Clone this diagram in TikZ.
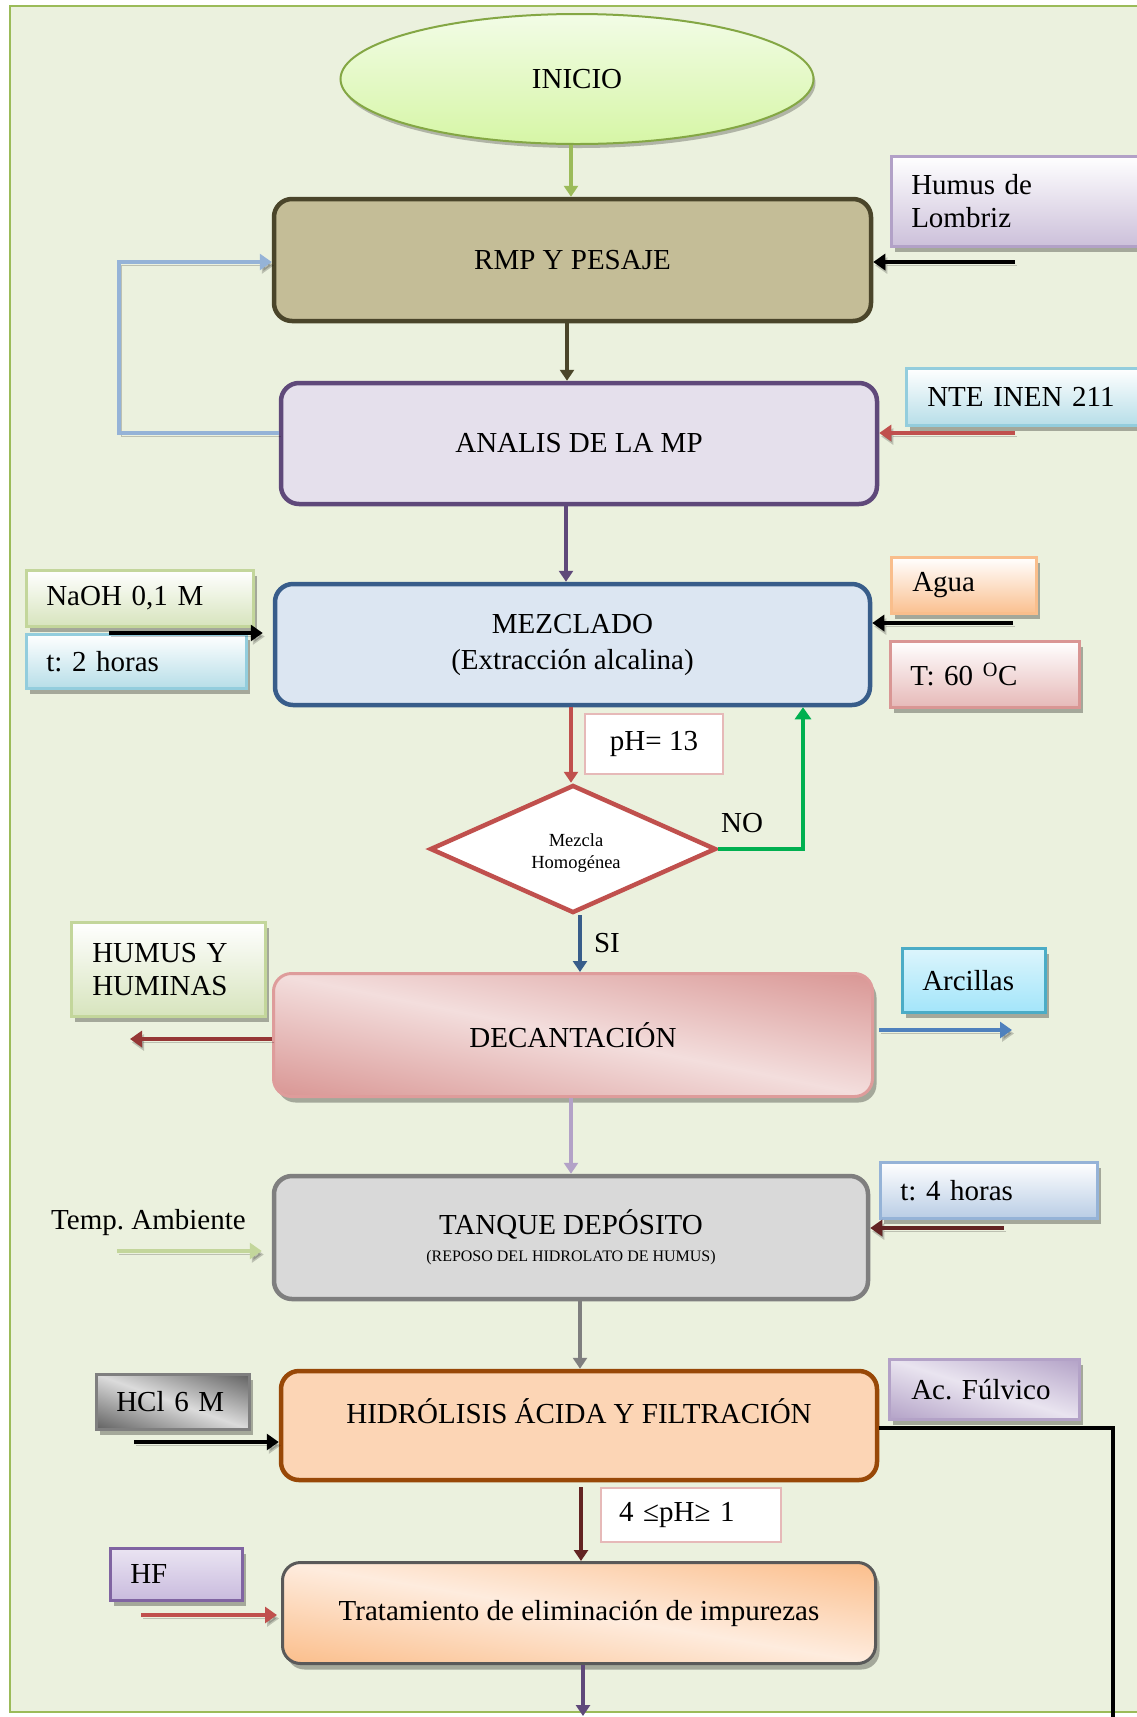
\documentclass[tikz,border=0pt]{standalone}
\usepackage{fontspec}
\setmainfont{Liberation Serif}
\usetikzlibrary{shapes.geometric,arrows.meta,shadows}

% Diagonal two-tone shading: dark at the lower-left and upper-right corners,
% light along the diagonal from the upper-left to the lower-right corner.
% #1 name, #2-#4 dark rgb, #5-#7 light rgb
\newcommand{\diagshading}[7]{%
  \pgfdeclarefunctionalshading{#1}{\pgfpointorigin}{\pgfpoint{100bp}{100bp}}{}{
    25 sub 50 div exch 25 sub 50 div add 1 sub abs 1 exch sub
    dup 0 lt {pop 0} if
    dup #5 #2 sub mul #2 add
    exch dup #6 #3 sub mul #3 add
    exch #7 #4 sub mul #4 add
  }}
\diagshading{decsh}{0.851}{0.588}{0.580}{0.953}{0.870}{0.866}
\diagshading{trash}{0.984}{0.745}{0.545}{0.996}{0.925}{0.870}
\diagshading{metsh}{0.38}{0.38}{0.38}{0.86}{0.86}{0.86}
\diagshading{acfsh}{0.702}{0.635}{0.780}{0.915}{0.895}{0.940}

% frame and background
\definecolor{frameC}{HTML}{9BBB59}
\definecolor{bgC}{HTML}{EBF1DE}
% process boxes
\definecolor{iniTop}{HTML}{F2FCE6}
\definecolor{iniBot}{HTML}{D6F6A6}
\definecolor{iniBd}{HTML}{84A744}
\definecolor{rmpFl}{HTML}{C4BD97}
\definecolor{rmpBd}{HTML}{4A452A}
\definecolor{anaFl}{HTML}{E5E0EC}
\definecolor{anaBd}{HTML}{5F497A}
\definecolor{mezFl}{HTML}{DCE6F2}
\definecolor{mezBd}{HTML}{385D8A}
\definecolor{decBd}{HTML}{DE9C9B}
\definecolor{tanFl}{HTML}{D9D9D9}
\definecolor{tanBd}{HTML}{7F7F7F}
\definecolor{hidFl}{HTML}{FCD5B5}
\definecolor{hidBd}{HTML}{984807}
\definecolor{traBd}{HTML}{595959}
\definecolor{diaBd}{HTML}{C0504D}
% side boxes
\definecolor{lavFl}{HTML}{CCC0DA}
\definecolor{lavBd}{HTML}{B2A1C7}
\definecolor{aquaFl}{HTML}{B7DEE8}
\definecolor{aquaBd}{HTML}{93CDDD}
\definecolor{oliFl}{HTML}{D7E4BD}
\definecolor{oliBd}{HTML}{C3D69B}
\definecolor{orgFl}{HTML}{FAC090}
\definecolor{orgBd}{HTML}{F9BE8C}
\definecolor{roseFl}{HTML}{E6B9B8}
\definecolor{roseBd}{HTML}{D99694}
\definecolor{cyanTop}{HTML}{DCF5FC}
\definecolor{cyanBot}{HTML}{A3E5FA}
\definecolor{cyanBd}{HTML}{4BACC6}
\definecolor{bluFl}{HTML}{B9CDE5}
\definecolor{bluBd}{HTML}{95B3D7}
\definecolor{acfBd}{HTML}{B3A2C7}
\definecolor{hfTop}{HTML}{EAE4F2}
\definecolor{hfBot}{HTML}{C9BBDE}
\definecolor{hfBd}{HTML}{8064A2}
\definecolor{tagBd}{HTML}{E6B9B8}
% connectors
\definecolor{cGreen}{HTML}{9BBB59}
\definecolor{cLoop}{HTML}{95B3D7}
\definecolor{cRed}{HTML}{C0504D}
\definecolor{cNo}{HTML}{00B050}
\definecolor{cDkRed}{HTML}{953735}
\definecolor{cBlue}{HTML}{4F81BD}
\definecolor{cLilac}{HTML}{B3A2C7}
\definecolor{cMaroon}{HTML}{632423}

\tikzset{
  proc/.style={rectangle, rounded corners=18pt, line width=4.5pt, align=center, inner sep=0pt},
  lbox/.style={rectangle, line width=2.5pt, align=left, inner xsep=20pt, inner ysep=0pt, anchor=north west},
  tagbox/.style={rectangle, line width=2pt, draw=tagBd, fill=white, inner sep=0pt, anchor=north west},
  shad/.style={drop shadow={shadow xshift=4pt, shadow yshift=-6pt, opacity=0.3, fill=black}},
  diagfill/.style={shade, shading=#1, shading angle=0},
  flow/.style={line width=3.5pt, -{Triangle[length=11pt,width=14pt]}},
  bigflow/.style={line width=4.5pt, -{Triangle[length=12pt,width=16pt]}},
  ashad/.style={preaction={draw=black, opacity=0.2,
                transform canvas={xshift=2pt, yshift=-3.5pt}}},
}

\begin{document}
\frenchspacing
\begin{tikzpicture}[x=1pt, y=-1pt, font=\fontsize{29}{33}\selectfont]
\useasboundingbox (0,0) rectangle (1137,1717);
\fill[white] (0,0) rectangle (1137,1717);
\draw[line width=2.5pt, draw=frameC, fill=bgC] (10,6) rectangle (1170,1712);

% ---------- main column ----------
\node[ellipse, draw=iniBd, line width=2pt, top color=iniTop, bottom color=iniBot,
      minimum width=473pt, minimum height=130pt, inner sep=0pt,
      drop shadow={shadow xshift=2pt, shadow yshift=-4pt, opacity=0.25, fill=black}]
      (ini) at (577,79) {INICIO};

\node[proc, draw=rmpBd, fill=rmpFl, minimum width=597pt, minimum height=122pt] (rmp) at (572.5,260) {RMP Y PESAJE};
\node[proc, draw=anaBd, fill=anaFl, minimum width=596pt, minimum height=121pt] (ana) at (579,443.5) {ANALIS DE LA MP};
\node[proc, draw=mezBd, fill=mezFl, minimum width=595pt, minimum height=121pt] (mez) at (572.5,644.5) {MEZCLADO\\[3pt](Extracción alcalina)};

\node[diamond, draw=diaBd, line width=4.5pt, fill=white, minimum width=286pt, minimum height=128pt,
      inner sep=0pt, aspect=2.2]
      (dia) at (573,849) {};
\node[align=center, font=\fontsize{18.5}{22}\selectfont] (diatxt) at (576,853) {Mezcla\\Homogénea};

\node[proc, draw=decBd, line width=3pt, diagfill=decsh, shad, minimum width=599pt, minimum height=123pt] (dec) at (573,1035) {DECANTACIÓN};
\node[proc, draw=tanBd, fill=tanFl, minimum width=594pt, minimum height=123pt] (tan) at (571,1237.5)
      {TANQUE DEPÓSITO\\[-6pt]{\fontsize{16}{18}\selectfont(REPOSO DEL HIDROLATO DE HUMUS)}};
\node[proc, draw=hidBd, fill=hidFl, minimum width=596pt, minimum height=109pt] (hid) at (579,1425.5) {};
\node (hidtxt) at (579,1411) {HIDRÓLISIS ÁCIDA Y FILTRACIÓN};
\node[proc, draw=traBd, line width=3pt, diagfill=trash, shad, minimum width=593pt, minimum height=101pt] (tra) at (579,1613)
      {Tratamiento de eliminación de impurezas};

% ---------- side boxes ----------
\node[lbox, shad, draw=lavBd, top color=white, bottom color=lavFl, minimum width=290pt, minimum height=90pt, text width=250pt] (hum) at (890,155) {Humus de\\Lombriz};
\node[lbox, shad, draw=aquaBd, top color=white, bottom color=aquaFl, minimum width=270pt, minimum height=57pt, text width=230pt, inner xsep=21pt] (nte) at (905,367) {NTE INEN 211};
\node[lbox, shad, draw=oliBd, top color=white, bottom color=oliFl, minimum width=227pt, minimum height=56pt, text width=187pt] (naoh) at (25,569) {NaOH 0,1 M};
\node[lbox, shad, draw=aquaBd, top color=white, bottom color=aquaFl, minimum width=220pt, minimum height=54pt, text width=180pt] (t2h) at (25,633) {t: 2 horas};
\node[lbox, shad, draw=orgBd, top color=white, bottom color=orgFl, minimum width=145pt, minimum height=56pt, text width=103pt, inner xsep=21pt] (agua) at (890,556) {Agua};
\node[lbox, shad, draw=roseBd, top color=white, bottom color=roseFl, minimum width=189pt, minimum height=66pt, text width=149pt] (t60) at (889,640) {T: 60 \textsuperscript{O}C};
\node[tagbox, minimum width=138pt, minimum height=60pt] (ph13) at (584,713) {pH= 13};
\node[lbox, shad, draw=oliBd, top color=white, bottom color=oliFl, minimum width=192pt, minimum height=94pt, text width=152pt, inner xsep=21pt] (hh) at (70,921) {HUMUS Y\\HUMINAS};
\node[lbox, shad, draw=cyanBd, top color=cyanTop, bottom color=cyanBot, minimum width=143pt, minimum height=64pt, text width=103pt] (arc) at (901,947) {Arcillas};
\node[anchor=west, inner sep=0pt] (temp) at (51,1223) {Temp. Ambiente};
\node[lbox, shad, draw=bluBd, top color=white, bottom color=bluFl, minimum width=217pt, minimum height=56pt, text width=177pt] (t4h) at (879,1161) {t: 4 horas};
\node[lbox, shad, draw=tanBd, diagfill=metsh, minimum width=153pt, minimum height=55pt, text width=113pt, inner xsep=20pt] (hcl) at (95,1373) {HCl 6 M};
\node[lbox, shad, draw=acfBd, diagfill=acfsh, minimum width=190pt, minimum height=60pt, text width=146pt, inner xsep=22pt] (acf) at (888,1358) {Ac. Fúlvico};
\node[tagbox, minimum width=180pt, minimum height=54pt, align=left, text width=144pt, inner xsep=18pt] (ph41) at (600,1487) {4 ≤pH≥ 1};
\node[lbox, shad, draw=hfBd, top color=hfTop, bottom color=hfBot, minimum width=132pt, minimum height=52pt, text width=92pt, inner xsep=20pt] (hf) at (109,1547) {HF};

\node (nolbl) at (742,823) {NO};
\node (silbl) at (607,943) {SI};

% ---------- columns and free ends ----------
\coordinate (xIni) at (571,0);
\coordinate (xRmp) at (567,0);
\coordinate (xAna) at (566,0);
\coordinate (xMez) at (571,0);
\coordinate (xSi)  at (580,0);
\coordinate (xDec) at (571,0);
\coordinate (xTan) at (580,0);
\coordinate (xHid) at (581,0);
\coordinate (xTra) at (583,0);
\coordinate (loopL) at (119,433);
\coordinate (loopT) at (119,262);
\coordinate (noTurn) at (803,849);
\coordinate (humIn) at (1015,262);
\coordinate (nteIn) at (1015,433);
\coordinate (naohIn) at (109,633);
\coordinate (aguaIn) at (1013,623);
\coordinate (hhOut) at (130,1039);
\coordinate (arcOut) at (1012,1030);
\coordinate (tempIn) at (117,1251);
\coordinate (t4hIn) at (1004,1228);
\coordinate (hclIn) at (134,1442);
\coordinate (acfTurn) at (1113,1428);
\coordinate (acfEnd) at (1113,1740);
\coordinate (hfIn) at (141,1615);
\coordinate (outEnd) at (583,1716);

% ---------- connectors ----------
\draw[flow, color=cGreen] (ini.south -| xIni) -- (rmp.north -| xIni);
\draw[flow, color=rmpBd] (rmp.south -| xRmp) -- (ana.north -| xRmp);
\draw[bigflow, color=cLoop, ashad] (loopL -| ana.west) -- (loopL) -- (loopT) -- (loopT -| rmp.west);
\draw[flow, color=anaBd] (ana.south -| xAna) -- (mez.north -| xAna);
\draw[bigflow, color=black, ashad] (humIn) -- (humIn -| rmp.east);
\draw[bigflow, color=cRed, ashad] (nteIn) -- (nteIn -| ana.east);
\draw[bigflow, color=black, ashad, shorten >=10pt] (naohIn) -- (naohIn -| mez.west);
\draw[bigflow, color=black, ashad] (aguaIn) -- (aguaIn -| mez.east);
\draw[flow, color=cRed] (mez.south -| xMez) -- (dia.north -| xMez);
\draw[bigflow, color=cNo] (dia.east) -- (noTurn) -- (noTurn |- mez.south);
\draw[flow, color=mezBd] (dia.south -| xSi) -- (dec.north -| xSi);
\draw[bigflow, color=cDkRed, ashad] (hhOut -| dec.west) -- (hhOut);
\draw[bigflow, color=cBlue, ashad, shorten <=5pt] (arcOut -| dec.east) -- (arcOut);
\draw[flow, color=cLilac] (dec.south -| xDec) -- (tan.north -| xDec);
\draw[bigflow, color=oliBd, ashad, shorten >=10pt] (tempIn) -- (tempIn -| tan.west);
\draw[bigflow, color=cMaroon, ashad] (t4hIn) -- (t4hIn -| tan.east);
\draw[flow, color=tanBd] (tan.south -| xTan) -- (hid.north -| xTan);
\draw[bigflow, color=black, ashad] (hclIn) -- (hclIn -| hid.west);
\draw[line width=4.5pt, color=black] (acfTurn -| hid.east) -- (acfTurn) -- (acfEnd);
\draw[flow, color=cMaroon, shorten <=5pt] (hid.south -| xHid) -- (tra.north -| xHid);
\draw[bigflow, color=cRed, ashad, shorten >=4pt] (hfIn) -- (hfIn -| tra.west);
\draw[flow, color=anaBd] (tra.south -| xTra) -- (outEnd);
\end{tikzpicture}
\end{document}
